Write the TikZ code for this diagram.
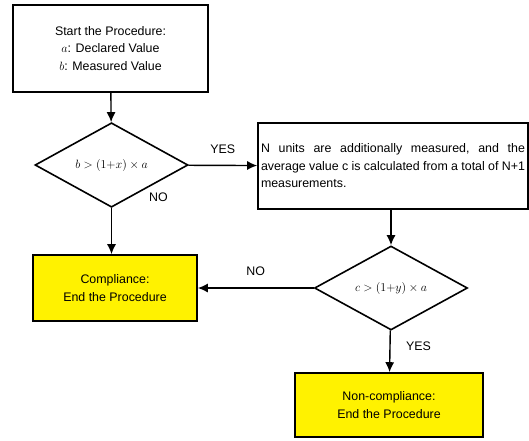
\documentclass[tikz,border=0pt]{standalone}
\usepackage{fontspec}
\setmainfont{Liberation Sans}
\usetikzlibrary{shapes.geometric,arrows.meta}
\tikzset{
    procbox/.style={rectangle,draw,line width=1.6pt,inner sep=2pt,align=center},
    finalbox/.style={procbox,fill=yellow},
    decision/.style={diamond,draw,line width=1.6pt,inner sep=0pt,minimum width=153pt,minimum height=68pt,font=\fontsize{13}{16}\selectfont},
    arr/.style={-{Latex[length=10pt,width=9pt]},line width=1.4pt},
    every node/.append style={font=\fontsize{12.4}{17.5}\selectfont}
}

\begin{document}
\begin{tikzpicture}[x=1pt,y=-1pt]
    \useasboundingbox (0,0) rectangle (529,440);
    \node[procbox,minimum width=195pt,minimum height=87pt] (start) at (110.5,48.5) {Start the Procedure:\\ $a$: Declared Value\\ $b$: Measured Value};
    \node[decision] (test1) at (111.5,165) {$b>(1{+}x)\times a$};
    \node[procbox,minimum width=270pt,minimum height=86pt,text width=264pt,align=left] (extra) at (393,166) {\makebox[264pt]{N\hfill units\hfill are\hfill additionally\hfill measured,\hfill and\hfill the}\\ \makebox[264pt]{average\hfill value\hfill c\hfill is\hfill calculated\hfill from\hfill a\hfill total\hfill of\hfill N+1}\\ measurements.};
    \node[decision] (test2) at (391,288) {$c>(1{+}y)\times a$};
    \node[finalbox,minimum width=164pt,minimum height=66pt] (pass) at (115,288) {Compliance:\\ End the Procedure};
    \node[finalbox,minimum width=188pt,minimum height=64pt] (fail) at (389,405) {Non-compliance:\\ End the Procedure};
    \draw[arr] (start) -- (test1);
    \draw[arr] (test1) -- (extra) node[pos=0.5,above=8pt] (yes1) {YES};
    \draw[arr] (test1.south) -- (test1.south |- pass.north) node[pos=0,xshift=47pt,yshift=11pt] (no1) {NO};
    \draw[arr] (extra.south -| test2.north) -- (test2);
    \draw[arr] (test2) -- (pass) node[pos=0.5,above=8pt] (no2) {NO};
    \draw[arr] (test2) -- (fail) node[pos=0.38,right=12pt] (yes2) {YES};
\end{tikzpicture}
\end{document}
